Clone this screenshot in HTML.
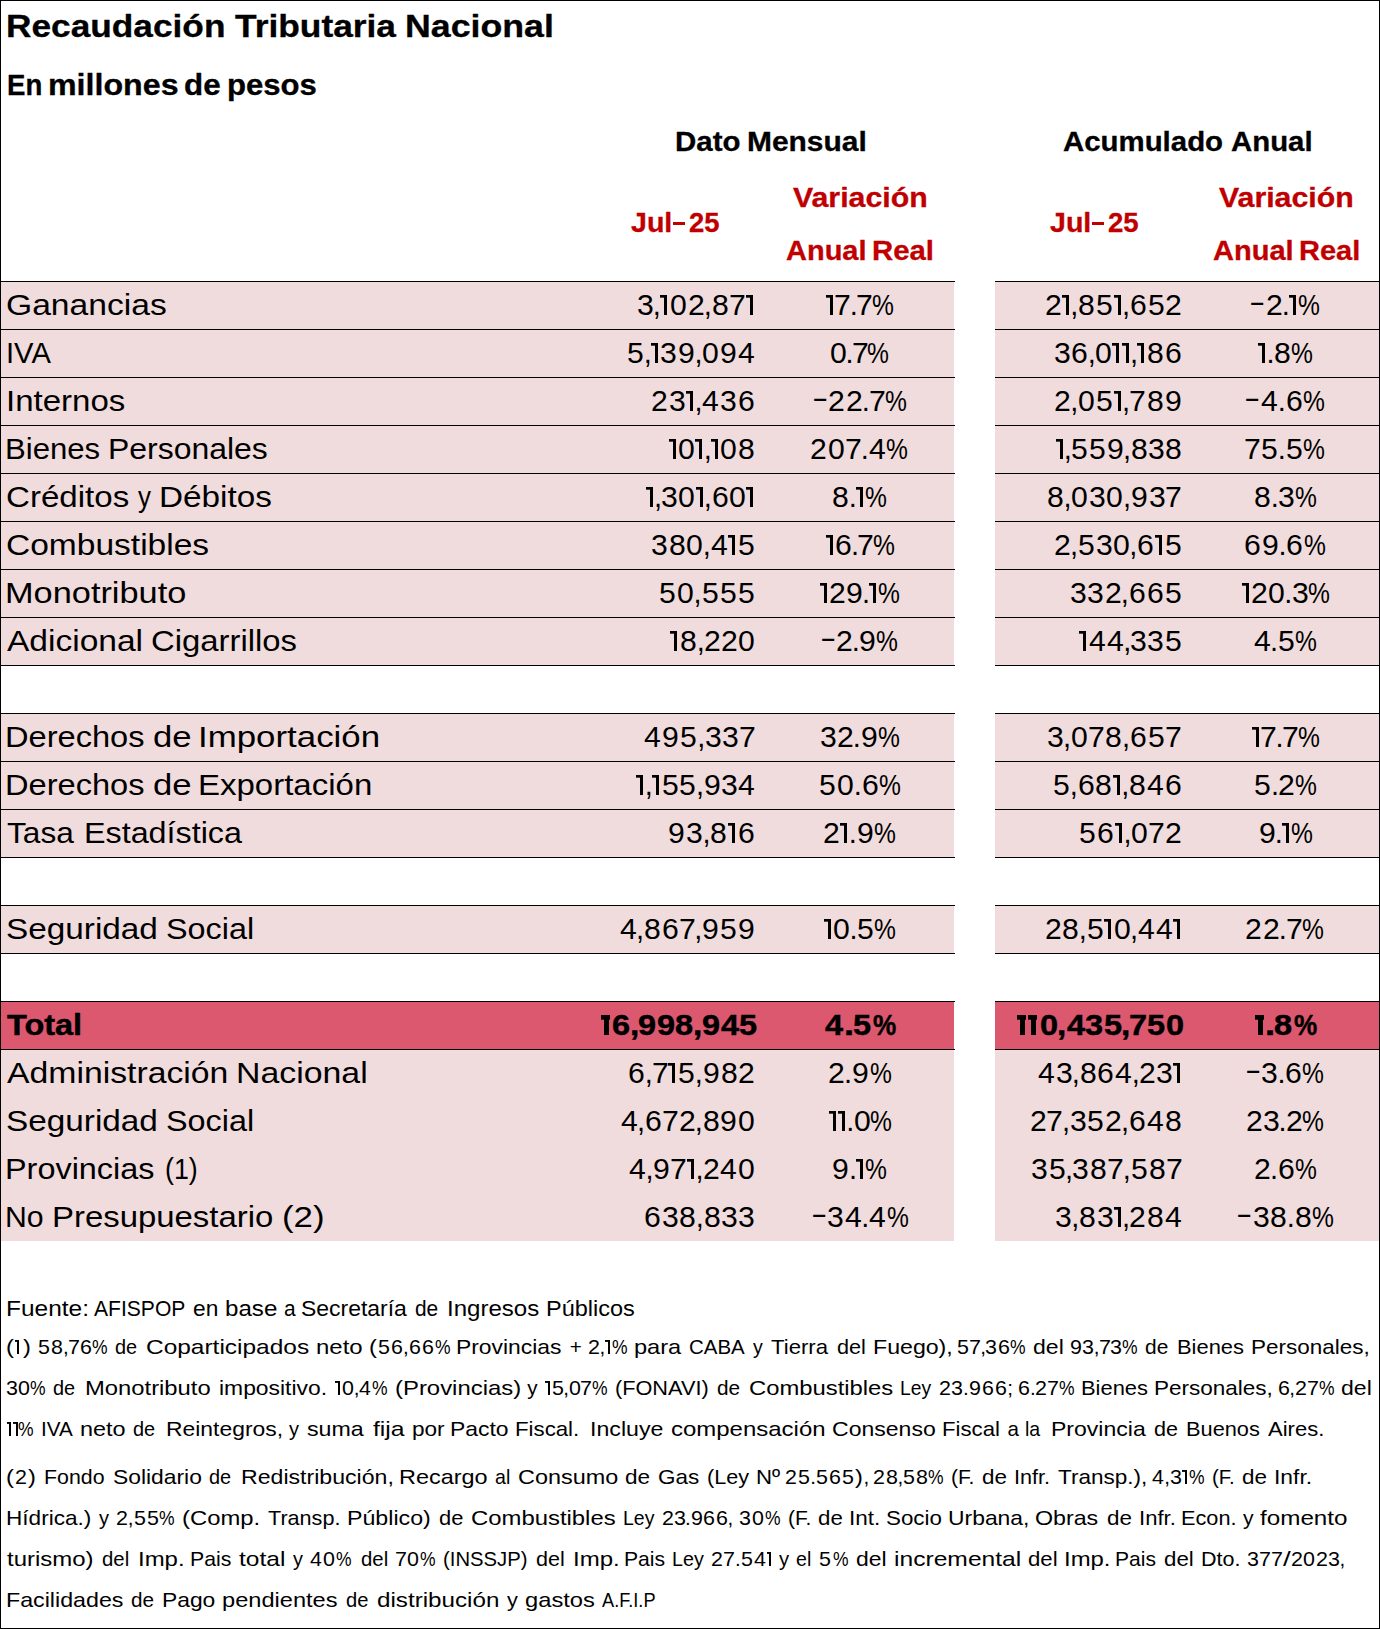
<!DOCTYPE html>
<html lang="es"><head><meta charset="utf-8"><title>Recaudación Tributaria Nacional</title>
<style>
html,body{margin:0;padding:0;background:#fff;}
body{width:1380px;height:1629px;position:relative;overflow:hidden;font-family:"Liberation Sans",sans-serif;color:#000;}
.f{position:absolute;}
.t{position:absolute;white-space:pre;line-height:1;transform-origin:0 0;margin:0;padding:0;}
.b{font-weight:bold;-webkit-text-stroke:0.3px;}
.n i{position:absolute;top:0;font-style:normal;transform-origin:0 0;}
.n i.o{top:4px;width:6.5px;height:20px;overflow:hidden;color:transparent;background:linear-gradient(#000,#000) right top/3px 100% no-repeat,linear-gradient(#000,#000) left top/100% 2.7px no-repeat;}
.r{color:#C00000;}
.k{-webkit-text-stroke:0.45px #000;}
.n i.on{top:3px;width:4.6px;height:14px;background:linear-gradient(#000,#000) right top/2px 100% no-repeat,linear-gradient(#000,#000) left top/100% 1.9px no-repeat;}
.n i.ob{width:8.7px;-webkit-text-stroke:0;background:linear-gradient(#000,#000) right top/5.4px 100% no-repeat,linear-gradient(#000,#000) left top/100% 4.7px no-repeat;}
</style></head><body>

<div class="f" style="left:0px;top:281px;width:954px;height:384px;background:#F0DCDC"></div>
<div class="f" style="left:995px;top:281px;width:385px;height:384px;background:#F0DCDC"></div>
<div class="f" style="left:0px;top:713px;width:954px;height:144px;background:#F0DCDC"></div>
<div class="f" style="left:995px;top:713px;width:385px;height:144px;background:#F0DCDC"></div>
<div class="f" style="left:0px;top:905px;width:954px;height:48px;background:#F0DCDC"></div>
<div class="f" style="left:995px;top:905px;width:385px;height:48px;background:#F0DCDC"></div>
<div class="f" style="left:0px;top:1001px;width:954px;height:48px;background:#DC586E"></div>
<div class="f" style="left:995px;top:1001px;width:385px;height:48px;background:#DC586E"></div>
<div class="f" style="left:0px;top:1049px;width:954px;height:192px;background:#F0DCDC"></div>
<div class="f" style="left:995px;top:1049px;width:385px;height:192px;background:#F0DCDC"></div>
<div class="f" style="left:0px;top:281px;width:955px;height:1px;background:#000"></div>
<div class="f" style="left:995px;top:281px;width:385px;height:1px;background:#000"></div>
<div class="f" style="left:0px;top:329px;width:955px;height:1px;background:#000"></div>
<div class="f" style="left:995px;top:329px;width:385px;height:1px;background:#000"></div>
<div class="f" style="left:0px;top:377px;width:955px;height:1px;background:#000"></div>
<div class="f" style="left:995px;top:377px;width:385px;height:1px;background:#000"></div>
<div class="f" style="left:0px;top:425px;width:955px;height:1px;background:#000"></div>
<div class="f" style="left:995px;top:425px;width:385px;height:1px;background:#000"></div>
<div class="f" style="left:0px;top:473px;width:955px;height:1px;background:#000"></div>
<div class="f" style="left:995px;top:473px;width:385px;height:1px;background:#000"></div>
<div class="f" style="left:0px;top:521px;width:955px;height:1px;background:#000"></div>
<div class="f" style="left:995px;top:521px;width:385px;height:1px;background:#000"></div>
<div class="f" style="left:0px;top:569px;width:955px;height:1px;background:#000"></div>
<div class="f" style="left:995px;top:569px;width:385px;height:1px;background:#000"></div>
<div class="f" style="left:0px;top:617px;width:955px;height:1px;background:#000"></div>
<div class="f" style="left:995px;top:617px;width:385px;height:1px;background:#000"></div>
<div class="f" style="left:0px;top:665px;width:955px;height:1px;background:#000"></div>
<div class="f" style="left:995px;top:665px;width:385px;height:1px;background:#000"></div>
<div class="f" style="left:0px;top:713px;width:955px;height:1px;background:#000"></div>
<div class="f" style="left:995px;top:713px;width:385px;height:1px;background:#000"></div>
<div class="f" style="left:0px;top:761px;width:955px;height:1px;background:#000"></div>
<div class="f" style="left:995px;top:761px;width:385px;height:1px;background:#000"></div>
<div class="f" style="left:0px;top:809px;width:955px;height:1px;background:#000"></div>
<div class="f" style="left:995px;top:809px;width:385px;height:1px;background:#000"></div>
<div class="f" style="left:0px;top:857px;width:955px;height:1px;background:#000"></div>
<div class="f" style="left:995px;top:857px;width:385px;height:1px;background:#000"></div>
<div class="f" style="left:0px;top:905px;width:955px;height:1px;background:#000"></div>
<div class="f" style="left:995px;top:905px;width:385px;height:1px;background:#000"></div>
<div class="f" style="left:0px;top:953px;width:955px;height:1px;background:#000"></div>
<div class="f" style="left:995px;top:953px;width:385px;height:1px;background:#000"></div>
<div class="f" style="left:0px;top:1001px;width:955px;height:1px;background:#000"></div>
<div class="f" style="left:995px;top:1001px;width:385px;height:1px;background:#000"></div>
<div class="f" style="left:0px;top:1049px;width:955px;height:1px;background:#000"></div>
<div class="f" style="left:995px;top:1049px;width:385px;height:1px;background:#000"></div>
<div class="f" style="left:0px;top:0px;width:1380px;height:1px;background:#000"></div>
<div class="f" style="left:0px;top:1628px;width:1380px;height:1px;background:#000"></div>
<div class="f" style="left:0px;top:0px;width:1px;height:1629px;background:#000"></div>
<div class="f" style="left:1379px;top:0px;width:1px;height:1629px;background:#000"></div>
<div class="f" style="left:673.2px;top:221.7px;width:11.9px;height:3.3px;background:#C00000"></div>
<div class="f" style="left:1092px;top:221.7px;width:11.9px;height:3.3px;background:#C00000"></div>
<div class="t b" style="left:6.30px;top:10.00px;font-size:32.1px;transform:scaleX(1.0991)">Recaudación</div>
<div class="t b" style="left:234.60px;top:10.00px;font-size:32.1px;transform:scaleX(1.1016)">Tributaria</div>
<div class="t b" style="left:404.77px;top:10.00px;font-size:32.1px;transform:scaleX(1.1134)">Nacional</div>
<div class="t b" style="left:6.85px;top:71.00px;font-size:29px;transform:scaleX(0.9522)">En</div>
<div class="t b" style="left:47.89px;top:71.00px;font-size:29px;transform:scaleX(1.1098)">millones</div>
<div class="t b" style="left:183.62px;top:71.00px;font-size:29px;transform:scaleX(1.0821)">de</div>
<div class="t b" style="left:226.73px;top:71.00px;font-size:29px;transform:scaleX(1.0724)">pesos</div>
<div class="t b" style="left:675.41px;top:129.00px;font-size:27px;transform:scaleX(1.0905)">Dato</div>
<div class="t b" style="left:747.19px;top:129.00px;font-size:27px;transform:scaleX(1.1087)">Mensual</div>
<div class="t b" style="left:1063.20px;top:129.00px;font-size:27px;transform:scaleX(1.0886)">Acumulado</div>
<div class="t b" style="left:1231.30px;top:129.00px;font-size:27px;transform:scaleX(1.0871)">Anual</div>
<div class="t b r" style="left:630.80px;top:210.00px;font-size:27px;transform:scaleX(1.0584)">Jul</div>
<div class="t b r" style="left:688.80px;top:210.00px;font-size:27px;transform:scaleX(1.0161)">25</div>
<div class="t b r" style="left:793.00px;top:185.00px;font-size:27px;transform:scaleX(1.1217)">Variación</div>
<div class="t b r" style="left:785.80px;top:238.00px;font-size:27px;transform:scaleX(1.0735)">Anual</div>
<div class="t b r" style="left:872.11px;top:238.00px;font-size:27px;transform:scaleX(1.0875)">Real</div>
<div class="t b r" style="left:1049.60px;top:210.00px;font-size:27px;transform:scaleX(1.0584)">Jul</div>
<div class="t b r" style="left:1107.60px;top:210.00px;font-size:27px;transform:scaleX(1.0228)">25</div>
<div class="t b r" style="left:1218.80px;top:185.00px;font-size:27px;transform:scaleX(1.1225)">Variación</div>
<div class="t b r" style="left:1212.60px;top:238.00px;font-size:27px;transform:scaleX(1.0748)">Anual</div>
<div class="t b r" style="left:1298.93px;top:238.00px;font-size:27px;transform:scaleX(1.0746)">Real</div>
<div class="t" style="left:6.09px;top:291.00px;font-size:29px;transform:scaleX(1.1590)">Ganancias</div>
<div class="t n" style="left:0;top:291.00px;font-size:29px"><i style="left:636.55px;transform:scaleX(1.040)">3</i><i style="left:652.84px;transform:scaleX(1.000)">,</i><i class="o" style="left:660px">1</i><i style="left:670.04px;transform:scaleX(1.040)">0</i><i style="left:687.58px;transform:scaleX(1.040)">2</i><i style="left:703.87px;transform:scaleX(1.000)">,</i><i style="left:711.91px;transform:scaleX(1.040)">8</i><i style="left:729.27px;transform:scaleX(1.040)">7</i><i class="o" style="left:746px">1</i></div>
<div class="t n" style="left:0;top:291.00px;font-size:29px"><i class="o" style="left:826px">1</i><i style="left:834.35px;transform:scaleX(1.040)">7</i><i style="left:849.63px;transform:scaleX(1.000)">.</i><i style="left:856.18px;transform:scaleX(1.040)">7</i><i style="left:871.96px;transform:scaleX(0.850)">%</i></div>
<div class="t n" style="left:0;top:291.00px;font-size:29px"><i style="left:1044.98px;transform:scaleX(1.040)">2</i><i class="o" style="left:1062px">1</i><i style="left:1070.34px;transform:scaleX(1.000)">,</i><i style="left:1078.18px;transform:scaleX(1.040)">8</i><i style="left:1096.15px;transform:scaleX(1.040)">5</i><i class="o" style="left:1114px">1</i><i style="left:1121.99px;transform:scaleX(1.000)">,</i><i style="left:1129.77px;transform:scaleX(1.040)">6</i><i style="left:1147.68px;transform:scaleX(1.040)">5</i><i style="left:1165.20px;transform:scaleX(1.040)">2</i></div>
<div class="t n" style="left:0;top:291.00px;font-size:29px"><i style="left:1249.22px;transform:scaleX(1.690) translateY(-2.9px)">-</i><i style="left:1265.66px;transform:scaleX(1.040)">2</i><i style="left:1281.77px;transform:scaleX(1.000)">.</i><i class="o" style="left:1289px">1</i><i style="left:1298.26px;transform:scaleX(0.850)">%</i></div>
<div class="t" style="left:6.09px;top:339.00px;font-size:29px;transform:scaleX(1.0058)">IVA</div>
<div class="t n" style="left:0;top:339.00px;font-size:29px"><i style="left:627.09px;transform:scaleX(1.040)">5</i><i style="left:643.73px;transform:scaleX(1.000)">,</i><i class="o" style="left:651px">1</i><i style="left:660.44px;transform:scaleX(1.040)">3</i><i style="left:677.99px;transform:scaleX(1.040)">9</i><i style="left:694.59px;transform:scaleX(1.000)">,</i><i style="left:702.26px;transform:scaleX(1.040)">0</i><i style="left:720.05px;transform:scaleX(1.040)">9</i><i style="left:737.98px;transform:scaleX(1.040)">4</i></div>
<div class="t n" style="left:0;top:339.00px;font-size:29px"><i style="left:829.82px;transform:scaleX(1.040)">0</i><i style="left:845.54px;transform:scaleX(1.000)">.</i><i style="left:851.94px;transform:scaleX(1.040)">7</i><i style="left:867.46px;transform:scaleX(0.850)">%</i></div>
<div class="t n" style="left:0;top:339.00px;font-size:29px"><i style="left:1053.85px;transform:scaleX(1.040)">3</i><i style="left:1071.21px;transform:scaleX(1.040)">6</i><i style="left:1087.67px;transform:scaleX(1.000)">,</i><i style="left:1095.26px;transform:scaleX(1.040)">0</i><i class="o" style="left:1112px">1</i><i class="o" style="left:1122px">1</i><i style="left:1130.00px;transform:scaleX(1.000)">,</i><i class="o" style="left:1137px">1</i><i style="left:1147.02px;transform:scaleX(1.040)">8</i><i style="left:1164.83px;transform:scaleX(1.040)">6</i></div>
<div class="t n" style="left:0;top:339.00px;font-size:29px"><i class="o" style="left:1258px">1</i><i style="left:1266.62px;transform:scaleX(1.000)">.</i><i style="left:1274.13px;transform:scaleX(1.040)">8</i><i style="left:1290.96px;transform:scaleX(0.850)">%</i></div>
<div class="t" style="left:5.82px;top:387.00px;font-size:29px;transform:scaleX(1.1380)">Internos</div>
<div class="t n" style="left:0;top:387.00px;font-size:29px"><i style="left:651.48px;transform:scaleX(1.040)">2</i><i style="left:668.79px;transform:scaleX(1.040)">3</i><i class="o" style="left:686px">1</i><i style="left:694.49px;transform:scaleX(1.000)">,</i><i style="left:702.46px;transform:scaleX(1.040)">4</i><i style="left:720.15px;transform:scaleX(1.040)">3</i><i style="left:737.86px;transform:scaleX(1.040)">6</i></div>
<div class="t n" style="left:0;top:387.00px;font-size:29px"><i style="left:811.82px;transform:scaleX(1.690) translateY(-2.9px)">-</i><i style="left:828.38px;transform:scaleX(1.040)">2</i><i style="left:845.56px;transform:scaleX(1.040)">2</i><i style="left:861.74px;transform:scaleX(1.000)">.</i><i style="left:868.82px;transform:scaleX(1.040)">7</i><i style="left:885.46px;transform:scaleX(0.850)">%</i></div>
<div class="t n" style="left:0;top:387.00px;font-size:29px"><i style="left:1054.08px;transform:scaleX(1.040)">2</i><i style="left:1070.32px;transform:scaleX(1.000)">,</i><i style="left:1078.08px;transform:scaleX(1.040)">0</i><i style="left:1096.02px;transform:scaleX(1.040)">5</i><i class="o" style="left:1114px">1</i><i style="left:1122.10px;transform:scaleX(1.000)">,</i><i style="left:1129.22px;transform:scaleX(1.040)">7</i><i style="left:1146.51px;transform:scaleX(1.040)">8</i><i style="left:1164.64px;transform:scaleX(1.040)">9</i></div>
<div class="t n" style="left:0;top:387.00px;font-size:29px"><i style="left:1243.82px;transform:scaleX(1.690) translateY(-2.9px)">-</i><i style="left:1260.99px;transform:scaleX(1.040)">4</i><i style="left:1277.73px;transform:scaleX(1.000)">.</i><i style="left:1285.76px;transform:scaleX(1.040)">6</i><i style="left:1303.46px;transform:scaleX(0.850)">%</i></div>
<div class="t" style="left:5.35px;top:435.00px;font-size:29px;transform:scaleX(1.0734)">Bienes</div>
<div class="t" style="left:107.80px;top:435.00px;font-size:29px;transform:scaleX(1.1011)">Personales</div>
<div class="t n" style="left:0;top:435.00px;font-size:29px"><i class="o" style="left:669px">1</i><i style="left:678.44px;transform:scaleX(1.040)">0</i><i class="o" style="left:695px">1</i><i style="left:703.82px;transform:scaleX(1.000)">,</i><i class="o" style="left:711px">1</i><i style="left:720.49px;transform:scaleX(1.040)">0</i><i style="left:738.03px;transform:scaleX(1.040)">8</i></div>
<div class="t n" style="left:0;top:435.00px;font-size:29px"><i style="left:810.48px;transform:scaleX(1.040)">2</i><i style="left:827.90px;transform:scaleX(1.040)">0</i><i style="left:844.92px;transform:scaleX(1.040)">7</i><i style="left:860.70px;transform:scaleX(1.000)">.</i><i style="left:868.55px;transform:scaleX(1.040)">4</i><i style="left:885.96px;transform:scaleX(0.850)">%</i></div>
<div class="t n" style="left:0;top:435.00px;font-size:29px"><i class="o" style="left:1056px">1</i><i style="left:1063.81px;transform:scaleX(1.000)">,</i><i style="left:1071.44px;transform:scaleX(1.040)">5</i><i style="left:1089.10px;transform:scaleX(1.040)">5</i><i style="left:1106.72px;transform:scaleX(1.040)">9</i><i style="left:1123.04px;transform:scaleX(1.000)">,</i><i style="left:1130.65px;transform:scaleX(1.040)">8</i><i style="left:1147.78px;transform:scaleX(1.040)">3</i><i style="left:1164.92px;transform:scaleX(1.040)">8</i></div>
<div class="t n" style="left:0;top:435.00px;font-size:29px"><i style="left:1244.25px;transform:scaleX(1.040)">7</i><i style="left:1261.33px;transform:scaleX(1.040)">5</i><i style="left:1277.86px;transform:scaleX(1.000)">.</i><i style="left:1285.67px;transform:scaleX(1.040)">5</i><i style="left:1302.96px;transform:scaleX(0.850)">%</i></div>
<div class="t" style="left:5.66px;top:483.00px;font-size:29px;transform:scaleX(1.1410)">Créditos</div>
<div class="t" style="left:138.30px;top:483.00px;font-size:29px;transform:scaleX(0.8933)">y</div>
<div class="t" style="left:159.40px;top:483.00px;font-size:29px;transform:scaleX(1.1479)">Débitos</div>
<div class="t n" style="left:0;top:483.00px;font-size:29px"><i class="o" style="left:646px">1</i><i style="left:654.05px;transform:scaleX(1.000)">,</i><i style="left:661.33px;transform:scaleX(1.040)">3</i><i style="left:678.46px;transform:scaleX(1.040)">0</i><i class="o" style="left:696px">1</i><i style="left:703.87px;transform:scaleX(1.000)">,</i><i style="left:711.55px;transform:scaleX(1.040)">6</i><i style="left:729.06px;transform:scaleX(1.040)">0</i><i class="o" style="left:746px">1</i></div>
<div class="t n" style="left:0;top:483.00px;font-size:29px"><i style="left:832.19px;transform:scaleX(1.040)">8</i><i style="left:848.72px;transform:scaleX(1.000)">.</i><i class="o" style="left:856px">1</i><i style="left:865.16px;transform:scaleX(0.850)">%</i></div>
<div class="t n" style="left:0;top:483.00px;font-size:29px"><i style="left:1046.89px;transform:scaleX(1.040)">8</i><i style="left:1063.61px;transform:scaleX(1.000)">,</i><i style="left:1071.40px;transform:scaleX(1.040)">0</i><i style="left:1088.89px;transform:scaleX(1.040)">3</i><i style="left:1106.39px;transform:scaleX(1.040)">0</i><i style="left:1122.89px;transform:scaleX(1.000)">,</i><i style="left:1130.90px;transform:scaleX(1.040)">9</i><i style="left:1148.62px;transform:scaleX(1.040)">3</i><i style="left:1165.48px;transform:scaleX(1.040)">7</i></div>
<div class="t n" style="left:0;top:483.00px;font-size:29px"><i style="left:1254.29px;transform:scaleX(1.040)">8</i><i style="left:1270.83px;transform:scaleX(1.000)">.</i><i style="left:1278.19px;transform:scaleX(1.040)">3</i><i style="left:1295.06px;transform:scaleX(0.850)">%</i></div>
<div class="t" style="left:5.74px;top:531.00px;font-size:29px;transform:scaleX(1.1562)">Combustibles</div>
<div class="t n" style="left:0;top:531.00px;font-size:29px"><i style="left:651.05px;transform:scaleX(1.040)">3</i><i style="left:668.60px;transform:scaleX(1.040)">8</i><i style="left:686.40px;transform:scaleX(1.040)">0</i><i style="left:702.79px;transform:scaleX(1.000)">,</i><i style="left:710.61px;transform:scaleX(1.040)">4</i><i class="o" style="left:728px">1</i><i style="left:737.87px;transform:scaleX(1.040)">5</i></div>
<div class="t n" style="left:0;top:531.00px;font-size:29px"><i class="o" style="left:826px">1</i><i style="left:834.83px;transform:scaleX(1.040)">6</i><i style="left:850.88px;transform:scaleX(1.000)">.</i><i style="left:857.45px;transform:scaleX(1.040)">7</i><i style="left:873.26px;transform:scaleX(0.850)">%</i></div>
<div class="t n" style="left:0;top:531.00px;font-size:29px"><i style="left:1053.68px;transform:scaleX(1.040)">2</i><i style="left:1069.89px;transform:scaleX(1.000)">,</i><i style="left:1077.86px;transform:scaleX(1.040)">5</i><i style="left:1095.52px;transform:scaleX(1.040)">3</i><i style="left:1112.93px;transform:scaleX(1.040)">0</i><i style="left:1129.37px;transform:scaleX(1.000)">,</i><i style="left:1137.25px;transform:scaleX(1.040)">6</i><i class="o" style="left:1155px">1</i><i style="left:1164.64px;transform:scaleX(1.040)">5</i></div>
<div class="t n" style="left:0;top:531.00px;font-size:29px"><i style="left:1244.17px;transform:scaleX(1.040)">6</i><i style="left:1262.07px;transform:scaleX(1.040)">9</i><i style="left:1278.62px;transform:scaleX(1.000)">.</i><i style="left:1286.38px;transform:scaleX(1.040)">6</i><i style="left:1303.66px;transform:scaleX(0.850)">%</i></div>
<div class="t" style="left:5.03px;top:579.00px;font-size:29px;transform:scaleX(1.1839)">Monotributo</div>
<div class="t n" style="left:0;top:579.00px;font-size:29px"><i style="left:659.29px;transform:scaleX(1.040)">5</i><i style="left:677.18px;transform:scaleX(1.040)">0</i><i style="left:693.61px;transform:scaleX(1.000)">,</i><i style="left:701.57px;transform:scaleX(1.040)">5</i><i style="left:719.71px;transform:scaleX(1.040)">5</i><i style="left:737.84px;transform:scaleX(1.040)">5</i></div>
<div class="t n" style="left:0;top:579.00px;font-size:29px"><i class="o" style="left:820px">1</i><i style="left:829.20px;transform:scaleX(1.040)">2</i><i style="left:846.03px;transform:scaleX(1.040)">9</i><i style="left:862.10px;transform:scaleX(1.000)">.</i><i class="o" style="left:869px">1</i><i style="left:877.66px;transform:scaleX(0.850)">%</i></div>
<div class="t n" style="left:0;top:579.00px;font-size:29px"><i style="left:1070.25px;transform:scaleX(1.040)">3</i><i style="left:1087.41px;transform:scaleX(1.040)">3</i><i style="left:1104.57px;transform:scaleX(1.040)">2</i><i style="left:1120.76px;transform:scaleX(1.000)">,</i><i style="left:1128.64px;transform:scaleX(1.040)">6</i><i style="left:1146.59px;transform:scaleX(1.040)">6</i><i style="left:1164.64px;transform:scaleX(1.040)">5</i></div>
<div class="t n" style="left:0;top:579.00px;font-size:29px"><i class="o" style="left:1242px">1</i><i style="left:1250.99px;transform:scaleX(1.040)">2</i><i style="left:1268.08px;transform:scaleX(1.040)">0</i><i style="left:1284.27px;transform:scaleX(1.000)">.</i><i style="left:1291.50px;transform:scaleX(1.040)">3</i><i style="left:1308.16px;transform:scaleX(0.850)">%</i></div>
<div class="t" style="left:7.30px;top:627.00px;font-size:29px;transform:scaleX(1.1562)">Adicional</div>
<div class="t" style="left:150.57px;top:627.00px;font-size:29px;transform:scaleX(1.1325)">Cigarrillos</div>
<div class="t n" style="left:0;top:627.00px;font-size:29px"><i class="o" style="left:670px">1</i><i style="left:680.16px;transform:scaleX(1.040)">8</i><i style="left:696.67px;transform:scaleX(1.000)">,</i><i style="left:704.02px;transform:scaleX(1.040)">2</i><i style="left:720.99px;transform:scaleX(1.040)">2</i><i style="left:738.19px;transform:scaleX(1.040)">0</i></div>
<div class="t n" style="left:0;top:627.00px;font-size:29px"><i style="left:819.62px;transform:scaleX(1.690) translateY(-2.9px)">-</i><i style="left:835.78px;transform:scaleX(1.040)">2</i><i style="left:851.69px;transform:scaleX(1.000)">.</i><i style="left:859.33px;transform:scaleX(1.040)">9</i><i style="left:876.36px;transform:scaleX(0.850)">%</i></div>
<div class="t n" style="left:0;top:627.00px;font-size:29px"><i class="o" style="left:1079px">1</i><i style="left:1089.13px;transform:scaleX(1.040)">4</i><i style="left:1106.79px;transform:scaleX(1.040)">4</i><i style="left:1123.19px;transform:scaleX(1.000)">,</i><i style="left:1130.49px;transform:scaleX(1.040)">3</i><i style="left:1147.39px;transform:scaleX(1.040)">3</i><i style="left:1164.78px;transform:scaleX(1.040)">5</i></div>
<div class="t n" style="left:0;top:627.00px;font-size:29px"><i style="left:1253.61px;transform:scaleX(1.040)">4</i><i style="left:1270.01px;transform:scaleX(1.000)">.</i><i style="left:1277.80px;transform:scaleX(1.040)">5</i><i style="left:1295.06px;transform:scaleX(0.850)">%</i></div>
<div class="t" style="left:5.05px;top:723.00px;font-size:29px;transform:scaleX(1.1241)">Derechos</div>
<div class="t" style="left:152.81px;top:723.00px;font-size:29px;transform:scaleX(1.1949)">de</div>
<div class="t" style="left:197.60px;top:723.00px;font-size:29px;transform:scaleX(1.2016)">Importación</div>
<div class="t n" style="left:0;top:723.00px;font-size:29px"><i style="left:644.21px;transform:scaleX(1.040)">4</i><i style="left:662.27px;transform:scaleX(1.040)">9</i><i style="left:680.44px;transform:scaleX(1.040)">5</i><i style="left:697.16px;transform:scaleX(1.000)">,</i><i style="left:704.68px;transform:scaleX(1.040)">3</i><i style="left:721.88px;transform:scaleX(1.040)">3</i><i style="left:738.70px;transform:scaleX(1.040)">7</i></div>
<div class="t n" style="left:0;top:723.00px;font-size:29px"><i style="left:820.05px;transform:scaleX(1.040)">3</i><i style="left:836.90px;transform:scaleX(1.040)">2</i><i style="left:852.86px;transform:scaleX(1.000)">.</i><i style="left:860.55px;transform:scaleX(1.040)">9</i><i style="left:877.66px;transform:scaleX(0.850)">%</i></div>
<div class="t n" style="left:0;top:723.00px;font-size:29px"><i style="left:1046.75px;transform:scaleX(1.040)">3</i><i style="left:1063.02px;transform:scaleX(1.000)">,</i><i style="left:1070.81px;transform:scaleX(1.040)">0</i><i style="left:1087.93px;transform:scaleX(1.040)">7</i><i style="left:1105.26px;transform:scaleX(1.040)">8</i><i style="left:1121.99px;transform:scaleX(1.000)">,</i><i style="left:1129.94px;transform:scaleX(1.040)">6</i><i style="left:1148.10px;transform:scaleX(1.040)">5</i><i style="left:1165.47px;transform:scaleX(1.040)">7</i></div>
<div class="t n" style="left:0;top:723.00px;font-size:29px"><i class="o" style="left:1252px">1</i><i style="left:1260.40px;transform:scaleX(1.040)">7</i><i style="left:1275.58px;transform:scaleX(1.000)">.</i><i style="left:1282.05px;transform:scaleX(1.040)">7</i><i style="left:1297.66px;transform:scaleX(0.850)">%</i></div>
<div class="t" style="left:5.05px;top:771.00px;font-size:29px;transform:scaleX(1.1241)">Derechos</div>
<div class="t" style="left:152.81px;top:771.00px;font-size:29px;transform:scaleX(1.1949)">de</div>
<div class="t" style="left:197.72px;top:771.00px;font-size:29px;transform:scaleX(1.1379)">Exportación</div>
<div class="t n" style="left:0;top:771.00px;font-size:29px"><i class="o" style="left:636px">1</i><i style="left:644.81px;transform:scaleX(1.000)">,</i><i class="o" style="left:652px">1</i><i style="left:661.68px;transform:scaleX(1.040)">5</i><i style="left:679.48px;transform:scaleX(1.040)">5</i><i style="left:695.93px;transform:scaleX(1.000)">,</i><i style="left:703.63px;transform:scaleX(1.040)">9</i><i style="left:720.91px;transform:scaleX(1.040)">3</i><i style="left:738.12px;transform:scaleX(1.040)">4</i></div>
<div class="t n" style="left:0;top:771.00px;font-size:29px"><i style="left:819.29px;transform:scaleX(1.040)">5</i><i style="left:837.22px;transform:scaleX(1.040)">0</i><i style="left:853.65px;transform:scaleX(1.000)">.</i><i style="left:861.52px;transform:scaleX(1.040)">6</i><i style="left:878.96px;transform:scaleX(0.850)">%</i></div>
<div class="t n" style="left:0;top:771.00px;font-size:29px"><i style="left:1053.19px;transform:scaleX(1.040)">5</i><i style="left:1069.79px;transform:scaleX(1.000)">,</i><i style="left:1077.58px;transform:scaleX(1.040)">6</i><i style="left:1095.46px;transform:scaleX(1.040)">8</i><i class="o" style="left:1113px">1</i><i style="left:1121.27px;transform:scaleX(1.000)">,</i><i style="left:1129.12px;transform:scaleX(1.040)">8</i><i style="left:1146.99px;transform:scaleX(1.040)">4</i><i style="left:1164.80px;transform:scaleX(1.040)">6</i></div>
<div class="t n" style="left:0;top:771.00px;font-size:29px"><i style="left:1254.39px;transform:scaleX(1.040)">5</i><i style="left:1270.92px;transform:scaleX(1.000)">.</i><i style="left:1278.25px;transform:scaleX(1.040)">2</i><i style="left:1295.06px;transform:scaleX(0.850)">%</i></div>
<div class="t" style="left:7.30px;top:819.00px;font-size:29px;transform:scaleX(1.0897)">Tasa</div>
<div class="t" style="left:83.77px;top:819.00px;font-size:29px;transform:scaleX(1.1136)">Estadística</div>
<div class="t n" style="left:0;top:819.00px;font-size:29px"><i style="left:668.49px;transform:scaleX(1.040)">9</i><i style="left:686.19px;transform:scaleX(1.040)">3</i><i style="left:702.44px;transform:scaleX(1.000)">,</i><i style="left:710.43px;transform:scaleX(1.040)">8</i><i class="o" style="left:728px">1</i><i style="left:737.89px;transform:scaleX(1.040)">6</i></div>
<div class="t n" style="left:0;top:819.00px;font-size:29px"><i style="left:823.38px;transform:scaleX(1.040)">2</i><i class="o" style="left:840px">1</i><i style="left:848.87px;transform:scaleX(1.000)">.</i><i style="left:856.79px;transform:scaleX(1.040)">9</i><i style="left:874.26px;transform:scaleX(0.850)">%</i></div>
<div class="t n" style="left:0;top:819.00px;font-size:29px"><i style="left:1079.29px;transform:scaleX(1.040)">5</i><i style="left:1097.41px;transform:scaleX(1.040)">6</i><i class="o" style="left:1115px">1</i><i style="left:1123.41px;transform:scaleX(1.000)">,</i><i style="left:1131.18px;transform:scaleX(1.040)">0</i><i style="left:1148.26px;transform:scaleX(1.040)">7</i><i style="left:1165.10px;transform:scaleX(1.040)">2</i></div>
<div class="t n" style="left:0;top:819.00px;font-size:29px"><i style="left:1258.58px;transform:scaleX(1.040)">9</i><i style="left:1274.81px;transform:scaleX(1.000)">.</i><i class="o" style="left:1282px">1</i><i style="left:1290.66px;transform:scaleX(0.850)">%</i></div>
<div class="t" style="left:6.15px;top:915.00px;font-size:29px;transform:scaleX(1.1485)">Seguridad</div>
<div class="t" style="left:166.18px;top:915.00px;font-size:29px;transform:scaleX(1.1157)">Social</div>
<div class="t n" style="left:0;top:915.00px;font-size:29px"><i style="left:619.61px;transform:scaleX(1.040)">4</i><i style="left:636.06px;transform:scaleX(1.000)">,</i><i style="left:643.86px;transform:scaleX(1.040)">8</i><i style="left:661.67px;transform:scaleX(1.040)">6</i><i style="left:678.65px;transform:scaleX(1.040)">7</i><i style="left:694.33px;transform:scaleX(1.000)">,</i><i style="left:702.14px;transform:scaleX(1.040)">9</i><i style="left:720.05px;transform:scaleX(1.040)">5</i><i style="left:737.97px;transform:scaleX(1.040)">9</i></div>
<div class="t n" style="left:0;top:915.00px;font-size:29px"><i class="o" style="left:824px">1</i><i style="left:833.22px;transform:scaleX(1.040)">0</i><i style="left:849.41px;transform:scaleX(1.000)">.</i><i style="left:857.12px;transform:scaleX(1.040)">5</i><i style="left:874.26px;transform:scaleX(0.850)">%</i></div>
<div class="t n" style="left:0;top:915.00px;font-size:29px"><i style="left:1044.58px;transform:scaleX(1.040)">2</i><i style="left:1062.09px;transform:scaleX(1.040)">8</i><i style="left:1078.66px;transform:scaleX(1.000)">,</i><i style="left:1086.55px;transform:scaleX(1.040)">5</i><i class="o" style="left:1104px">1</i><i style="left:1113.59px;transform:scaleX(1.040)">0</i><i style="left:1129.94px;transform:scaleX(1.000)">,</i><i style="left:1137.73px;transform:scaleX(1.040)">4</i><i style="left:1155.55px;transform:scaleX(1.040)">4</i><i class="o" style="left:1173px">1</i></div>
<div class="t n" style="left:0;top:915.00px;font-size:29px"><i style="left:1245.48px;transform:scaleX(1.040)">2</i><i style="left:1262.55px;transform:scaleX(1.040)">2</i><i style="left:1278.65px;transform:scaleX(1.000)">.</i><i style="left:1285.65px;transform:scaleX(1.040)">7</i><i style="left:1302.16px;transform:scaleX(0.850)">%</i></div>
<div class="t b k" style="left:7.40px;top:1011.00px;font-size:29px;transform:scaleX(1.1189)">Total</div>
<div class="t n b k" style="left:0;top:1011.00px;font-size:29px"><i class="o ob" style="left:601px">1</i><i style="left:612.07px;transform:scaleX(1.120)">6</i><i style="left:629.67px;transform:scaleX(1.150)">,</i><i style="left:638.43px;transform:scaleX(1.120)">9</i><i style="left:656.86px;transform:scaleX(1.120)">9</i><i style="left:675.33px;transform:scaleX(1.120)">8</i><i style="left:692.94px;transform:scaleX(1.150)">,</i><i style="left:701.70px;transform:scaleX(1.120)">9</i><i style="left:720.53px;transform:scaleX(1.120)">4</i><i style="left:739.36px;transform:scaleX(1.120)">5</i></div>
<div class="t n b k" style="left:0;top:1011.00px;font-size:29px"><i style="left:825.41px;transform:scaleX(1.120)">4</i><i style="left:843.65px;transform:scaleX(1.250)">.</i><i style="left:853.49px;transform:scaleX(1.120)">5</i><i style="left:873.28px;transform:scaleX(0.900)">%</i></div>
<div class="t n b k" style="left:0;top:1011.00px;font-size:29px"><i class="o ob" style="left:1017px">1</i><i class="o ob" style="left:1028px">1</i><i style="left:1039.67px;transform:scaleX(1.120)">0</i><i style="left:1057.47px;transform:scaleX(1.150)">,</i><i style="left:1066.68px;transform:scaleX(1.120)">4</i><i style="left:1085.37px;transform:scaleX(1.120)">3</i><i style="left:1103.66px;transform:scaleX(1.120)">5</i><i style="left:1121.26px;transform:scaleX(1.150)">,</i><i style="left:1129.46px;transform:scaleX(1.120)">7</i><i style="left:1147.33px;transform:scaleX(1.120)">5</i><i style="left:1166.02px;transform:scaleX(1.120)">0</i></div>
<div class="t n b k" style="left:0;top:1011.00px;font-size:29px"><i class="o ob" style="left:1255px">1</i><i style="left:1264.99px;transform:scaleX(1.250)">.</i><i style="left:1274.44px;transform:scaleX(1.120)">8</i><i style="left:1293.58px;transform:scaleX(0.900)">%</i></div>
<div class="t" style="left:7.30px;top:1059.00px;font-size:29px;transform:scaleX(1.1637)">Administración</div>
<div class="t" style="left:235.97px;top:1059.00px;font-size:29px;transform:scaleX(1.1673)">Nacional</div>
<div class="t n" style="left:0;top:1059.00px;font-size:29px"><i style="left:628.07px;transform:scaleX(1.040)">6</i><i style="left:644.63px;transform:scaleX(1.000)">,</i><i style="left:651.68px;transform:scaleX(1.040)">7</i><i class="o" style="left:668px">1</i><i style="left:678.19px;transform:scaleX(1.040)">5</i><i style="left:694.84px;transform:scaleX(1.000)">,</i><i style="left:702.75px;transform:scaleX(1.040)">9</i><i style="left:720.78px;transform:scaleX(1.040)">8</i><i style="left:738.35px;transform:scaleX(1.040)">2</i></div>
<div class="t n" style="left:0;top:1059.00px;font-size:29px"><i style="left:827.68px;transform:scaleX(1.040)">2</i><i style="left:843.94px;transform:scaleX(1.000)">.</i><i style="left:851.94px;transform:scaleX(1.040)">9</i><i style="left:869.56px;transform:scaleX(0.850)">%</i></div>
<div class="t n" style="left:0;top:1059.00px;font-size:29px"><i style="left:1038.41px;transform:scaleX(1.040)">4</i><i style="left:1055.77px;transform:scaleX(1.040)">3</i><i style="left:1071.83px;transform:scaleX(1.000)">,</i><i style="left:1079.64px;transform:scaleX(1.040)">8</i><i style="left:1097.46px;transform:scaleX(1.040)">6</i><i style="left:1115.22px;transform:scaleX(1.040)">4</i><i style="left:1131.67px;transform:scaleX(1.000)">,</i><i style="left:1139.03px;transform:scaleX(1.040)">2</i><i style="left:1156.00px;transform:scaleX(1.040)">3</i><i class="o" style="left:1173px">1</i></div>
<div class="t n" style="left:0;top:1059.00px;font-size:29px"><i style="left:1245.12px;transform:scaleX(1.690) translateY(-2.9px)">-</i><i style="left:1261.48px;transform:scaleX(1.040)">3</i><i style="left:1277.53px;transform:scaleX(1.000)">.</i><i style="left:1285.25px;transform:scaleX(1.040)">6</i><i style="left:1302.46px;transform:scaleX(0.850)">%</i></div>
<div class="t" style="left:6.15px;top:1107.00px;font-size:29px;transform:scaleX(1.1485)">Seguridad</div>
<div class="t" style="left:166.18px;top:1107.00px;font-size:29px;transform:scaleX(1.1157)">Social</div>
<div class="t n" style="left:0;top:1107.00px;font-size:29px"><i style="left:620.61px;transform:scaleX(1.040)">4</i><i style="left:637.09px;transform:scaleX(1.000)">,</i><i style="left:644.87px;transform:scaleX(1.040)">6</i><i style="left:661.91px;transform:scaleX(1.040)">7</i><i style="left:678.55px;transform:scaleX(1.040)">2</i><i style="left:694.66px;transform:scaleX(1.000)">,</i><i style="left:702.50px;transform:scaleX(1.040)">8</i><i style="left:720.44px;transform:scaleX(1.040)">9</i><i style="left:738.16px;transform:scaleX(1.040)">0</i></div>
<div class="t n" style="left:0;top:1107.00px;font-size:29px"><i class="o" style="left:829px">1</i><i class="o" style="left:838px">1</i><i style="left:846.30px;transform:scaleX(1.000)">.</i><i style="left:853.58px;transform:scaleX(1.040)">0</i><i style="left:870.16px;transform:scaleX(0.850)">%</i></div>
<div class="t n" style="left:0;top:1107.00px;font-size:29px"><i style="left:1029.58px;transform:scaleX(1.040)">2</i><i style="left:1046.32px;transform:scaleX(1.040)">7</i><i style="left:1062.10px;transform:scaleX(1.000)">,</i><i style="left:1069.56px;transform:scaleX(1.040)">3</i><i style="left:1087.17px;transform:scaleX(1.040)">5</i><i style="left:1104.79px;transform:scaleX(1.040)">2</i><i style="left:1120.97px;transform:scaleX(1.000)">,</i><i style="left:1128.82px;transform:scaleX(1.040)">6</i><i style="left:1146.73px;transform:scaleX(1.040)">4</i><i style="left:1164.69px;transform:scaleX(1.040)">8</i></div>
<div class="t n" style="left:0;top:1107.00px;font-size:29px"><i style="left:1245.78px;transform:scaleX(1.040)">2</i><i style="left:1262.62px;transform:scaleX(1.040)">3</i><i style="left:1278.57px;transform:scaleX(1.000)">.</i><i style="left:1285.81px;transform:scaleX(1.040)">2</i><i style="left:1302.46px;transform:scaleX(0.850)">%</i></div>
<div class="t" style="left:5.06px;top:1155.00px;font-size:29px;transform:scaleX(1.1175)">Provincias</div>
<div class="t" style="left:164.78px;top:1155.00px;font-size:29px;transform:scaleX(0.9242)">(1)</div>
<div class="t n" style="left:0;top:1155.00px;font-size:29px"><i style="left:628.91px;transform:scaleX(1.040)">4</i><i style="left:645.44px;transform:scaleX(1.000)">,</i><i style="left:653.32px;transform:scaleX(1.040)">9</i><i style="left:670.48px;transform:scaleX(1.040)">7</i><i class="o" style="left:687px">1</i><i style="left:695.52px;transform:scaleX(1.000)">,</i><i style="left:702.95px;transform:scaleX(1.040)">2</i><i style="left:720.42px;transform:scaleX(1.040)">4</i><i style="left:738.13px;transform:scaleX(1.040)">0</i></div>
<div class="t n" style="left:0;top:1155.00px;font-size:29px"><i style="left:832.49px;transform:scaleX(1.040)">9</i><i style="left:848.92px;transform:scaleX(1.000)">.</i><i class="o" style="left:856px">1</i><i style="left:865.16px;transform:scaleX(0.850)">%</i></div>
<div class="t n" style="left:0;top:1155.00px;font-size:29px"><i style="left:1031.05px;transform:scaleX(1.040)">3</i><i style="left:1048.54px;transform:scaleX(1.040)">5</i><i style="left:1065.12px;transform:scaleX(1.000)">,</i><i style="left:1072.49px;transform:scaleX(1.040)">3</i><i style="left:1089.95px;transform:scaleX(1.040)">8</i><i style="left:1107.02px;transform:scaleX(1.040)">7</i><i style="left:1122.72px;transform:scaleX(1.000)">,</i><i style="left:1130.58px;transform:scaleX(1.040)">5</i><i style="left:1148.53px;transform:scaleX(1.040)">8</i><i style="left:1165.60px;transform:scaleX(1.040)">7</i></div>
<div class="t n" style="left:0;top:1155.00px;font-size:29px"><i style="left:1253.98px;transform:scaleX(1.040)">2</i><i style="left:1269.98px;transform:scaleX(1.000)">.</i><i style="left:1277.65px;transform:scaleX(1.040)">6</i><i style="left:1294.76px;transform:scaleX(0.850)">%</i></div>
<div class="t" style="left:5.21px;top:1203.00px;font-size:29px;transform:scaleX(1.0429)">No</div>
<div class="t" style="left:51.73px;top:1203.00px;font-size:29px;transform:scaleX(1.1343)">Presupuestario</div>
<div class="t" style="left:282.10px;top:1203.00px;font-size:29px;transform:scaleX(1.2017)">(2)</div>
<div class="t n" style="left:0;top:1203.00px;font-size:29px"><i style="left:643.97px;transform:scaleX(1.040)">6</i><i style="left:661.50px;transform:scaleX(1.040)">3</i><i style="left:679.08px;transform:scaleX(1.040)">8</i><i style="left:695.72px;transform:scaleX(1.000)">,</i><i style="left:703.63px;transform:scaleX(1.040)">8</i><i style="left:721.22px;transform:scaleX(1.040)">3</i><i style="left:738.35px;transform:scaleX(1.040)">3</i></div>
<div class="t n" style="left:0;top:1203.00px;font-size:29px"><i style="left:810.52px;transform:scaleX(1.690) translateY(-2.9px)">-</i><i style="left:827.11px;transform:scaleX(1.040)">3</i><i style="left:844.71px;transform:scaleX(1.040)">4</i><i style="left:861.31px;transform:scaleX(1.000)">.</i><i style="left:869.19px;transform:scaleX(1.040)">4</i><i style="left:886.66px;transform:scaleX(0.850)">%</i></div>
<div class="t n" style="left:0;top:1203.00px;font-size:29px"><i style="left:1055.25px;transform:scaleX(1.040)">3</i><i style="left:1071.36px;transform:scaleX(1.000)">,</i><i style="left:1079.20px;transform:scaleX(1.040)">8</i><i style="left:1096.69px;transform:scaleX(1.040)">3</i><i class="o" style="left:1114px">1</i><i style="left:1122.05px;transform:scaleX(1.000)">,</i><i style="left:1129.45px;transform:scaleX(1.040)">2</i><i style="left:1146.94px;transform:scaleX(1.040)">8</i><i style="left:1164.81px;transform:scaleX(1.040)">4</i></div>
<div class="t n" style="left:0;top:1203.00px;font-size:29px"><i style="left:1236.02px;transform:scaleX(1.690) translateY(-2.9px)">-</i><i style="left:1252.55px;transform:scaleX(1.040)">3</i><i style="left:1270.16px;transform:scaleX(1.040)">8</i><i style="left:1286.79px;transform:scaleX(1.000)">.</i><i style="left:1294.69px;transform:scaleX(1.040)">8</i><i style="left:1312.16px;transform:scaleX(0.850)">%</i></div>
<div class="t" style="left:5.59px;top:1298.00px;font-size:22px;transform:scaleX(1.1118)">Fuente:</div>
<div class="t" style="left:94.30px;top:1298.00px;font-size:22px;transform:scaleX(0.9579)">AFISPOP</div>
<div class="t" style="left:193.00px;top:1298.00px;font-size:22px;transform:scaleX(1.0329)">en</div>
<div class="t" style="left:224.90px;top:1298.00px;font-size:22px;transform:scaleX(1.0975)">base</div>
<div class="t" style="left:283.82px;top:1298.00px;font-size:22px;transform:scaleX(0.9500)">a</div>
<div class="t" style="left:300.66px;top:1298.00px;font-size:22px;transform:scaleX(1.0429)">Secretaría</div>
<div class="t" style="left:414.99px;top:1298.00px;font-size:22px;transform:scaleX(0.9500)">de</div>
<div class="t" style="left:447.12px;top:1298.00px;font-size:22px;transform:scaleX(1.0925)">Ingresos</div>
<div class="t" style="left:546.23px;top:1298.00px;font-size:22px;transform:scaleX(1.0675)">Públicos</div>
<div class="t n" style="left:0;top:1337.00px;font-size:20.6px"><i style="left:6.03px;transform:scaleX(1.150)">(</i><i class="o on" style="left:14.5px">1</i><i style="left:22.58px;transform:scaleX(1.150)">)</i></div>
<div class="t n" style="left:0;top:1337.00px;font-size:20.6px"><i style="left:38.44px;transform:scaleX(1.040)">5</i><i style="left:51.22px;transform:scaleX(1.040)">8</i><i style="left:62.99px;transform:scaleX(1.000)">,</i><i style="left:67.97px;transform:scaleX(1.040)">7</i><i style="left:80.08px;transform:scaleX(1.040)">6</i><i style="left:92.35px;transform:scaleX(0.850)">%</i></div>
<div class="t" style="left:115.00px;top:1337.00px;font-size:20.6px;transform:scaleX(0.9665)">de</div>
<div class="t" style="left:145.51px;top:1337.00px;font-size:20.6px;transform:scaleX(1.1876)">Coparticipados</div>
<div class="t" style="left:315.54px;top:1337.00px;font-size:20.6px;transform:scaleX(1.1650)">neto</div>
<div class="t n" style="left:0;top:1337.00px;font-size:20.6px"><i style="left:368.53px;transform:scaleX(1.150)">(</i><i style="left:377.75px;transform:scaleX(1.040)">5</i><i style="left:391.02px;transform:scaleX(1.040)">6</i><i style="left:403.10px;transform:scaleX(1.000)">,</i><i style="left:409.00px;transform:scaleX(1.040)">6</i><i style="left:422.19px;transform:scaleX(1.040)">6</i><i style="left:435.05px;transform:scaleX(0.850)">%</i></div>
<div class="t" style="left:455.59px;top:1337.00px;font-size:20.6px;transform:scaleX(1.1100)">Provincias</div>
<div class="t" style="left:569.70px;top:1337.00px;font-size:20.6px;transform:scaleX(1.0000)">+</div>
<div class="t n" style="left:0;top:1337.00px;font-size:20.6px"><i style="left:587.92px;transform:scaleX(1.040)">2</i><i style="left:599.60px;transform:scaleX(1.000)">,</i><i class="o on" style="left:605.0px">1</i><i style="left:611.75px;transform:scaleX(0.850)">%</i></div>
<div class="t" style="left:633.85px;top:1337.00px;font-size:20.6px;transform:scaleX(1.1456)">para</div>
<div class="t" style="left:689.01px;top:1337.00px;font-size:20.6px;transform:scaleX(0.9938)">CABA</div>
<div class="t" style="left:753.07px;top:1337.00px;font-size:20.6px;transform:scaleX(0.9500)">y</div>
<div class="t" style="left:770.70px;top:1337.00px;font-size:20.6px;transform:scaleX(1.0754)">Tierra</div>
<div class="t" style="left:836.70px;top:1337.00px;font-size:20.6px;transform:scaleX(1.0518)">del</div>
<div class="t" style="left:872.88px;top:1337.00px;font-size:20.6px;transform:scaleX(1.1238)">Fuego),</div>
<div class="t n" style="left:0;top:1337.00px;font-size:20.6px"><i style="left:957.04px;transform:scaleX(1.040)">5</i><i style="left:969.14px;transform:scaleX(1.040)">7</i><i style="left:980.26px;transform:scaleX(1.000)">,</i><i style="left:985.47px;transform:scaleX(1.040)">3</i><i style="left:997.77px;transform:scaleX(1.040)">6</i><i style="left:1009.95px;transform:scaleX(0.850)">%</i></div>
<div class="t" style="left:1032.90px;top:1337.00px;font-size:20.6px;transform:scaleX(1.1187)">del</div>
<div class="t n" style="left:0;top:1337.00px;font-size:20.6px"><i style="left:1069.90px;transform:scaleX(1.040)">9</i><i style="left:1082.26px;transform:scaleX(1.040)">3</i><i style="left:1093.65px;transform:scaleX(1.000)">,</i><i style="left:1098.58px;transform:scaleX(1.040)">7</i><i style="left:1110.35px;transform:scaleX(1.040)">3</i><i style="left:1122.25px;transform:scaleX(0.850)">%</i></div>
<div class="t" style="left:1145.20px;top:1337.00px;font-size:20.6px;transform:scaleX(1.0154)">de</div>
<div class="t" style="left:1176.74px;top:1337.00px;font-size:20.6px;transform:scaleX(1.0637)">Bienes</div>
<div class="t" style="left:1251.01px;top:1337.00px;font-size:20.6px;transform:scaleX(1.0912)">Personales,</div>
<div class="t n" style="left:0;top:1378.00px;font-size:20.6px"><i style="left:5.88px;transform:scaleX(1.040)">3</i><i style="left:18.03px;transform:scaleX(1.040)">0</i><i style="left:30.06px;transform:scaleX(0.850)">%</i></div>
<div class="t" style="left:53.30px;top:1378.00px;font-size:20.6px;transform:scaleX(0.9665)">de</div>
<div class="t" style="left:84.84px;top:1378.00px;font-size:20.6px;transform:scaleX(1.1557)">Monotributo</div>
<div class="t" style="left:218.89px;top:1378.00px;font-size:20.6px;transform:scaleX(1.1105)">impositivo.</div>
<div class="t n" style="left:0;top:1378.00px;font-size:20.6px"><i class="o on" style="left:335.0px">1</i><i style="left:341.99px;transform:scaleX(1.040)">0</i><i style="left:353.70px;transform:scaleX(1.000)">,</i><i style="left:359.33px;transform:scaleX(1.040)">4</i><i style="left:371.75px;transform:scaleX(0.850)">%</i></div>
<div class="t" style="left:394.84px;top:1378.00px;font-size:20.6px;transform:scaleX(1.1605)">(Provincias)</div>
<div class="t" style="left:527.30px;top:1378.00px;font-size:20.6px;transform:scaleX(1.0000)">y</div>
<div class="t n" style="left:0;top:1378.00px;font-size:20.6px"><i class="o on" style="left:545.0px">1</i><i style="left:551.74px;transform:scaleX(1.040)">5</i><i style="left:563.35px;transform:scaleX(1.000)">,</i><i style="left:568.59px;transform:scaleX(1.040)">0</i><i style="left:580.33px;transform:scaleX(1.040)">7</i><i style="left:591.75px;transform:scaleX(0.850)">%</i></div>
<div class="t" style="left:614.95px;top:1378.00px;font-size:20.6px;transform:scaleX(1.0541)">(FONAVI)</div>
<div class="t" style="left:717.30px;top:1378.00px;font-size:20.6px;transform:scaleX(1.0110)">de</div>
<div class="t" style="left:748.84px;top:1378.00px;font-size:20.6px;transform:scaleX(1.1558)">Combustibles</div>
<div class="t" style="left:900.06px;top:1378.00px;font-size:20.6px;transform:scaleX(0.9360)">Ley</div>
<div class="t n" style="left:0;top:1378.00px;font-size:20.6px"><i style="left:938.72px;transform:scaleX(1.040)">2</i><i style="left:951.28px;transform:scaleX(1.040)">3</i><i style="left:963.02px;transform:scaleX(1.000)">.</i><i style="left:968.90px;transform:scaleX(1.040)">9</i><i style="left:982.09px;transform:scaleX(1.040)">6</i><i style="left:995.22px;transform:scaleX(1.040)">6</i><i style="left:1007.33px;transform:scaleX(1.000)">;</i></div>
<div class="t n" style="left:0;top:1378.00px;font-size:20.6px"><i style="left:1018.41px;transform:scaleX(1.040)">6</i><i style="left:1030.11px;transform:scaleX(1.000)">.</i><i style="left:1035.34px;transform:scaleX(1.040)">2</i><i style="left:1047.16px;transform:scaleX(1.040)">7</i><i style="left:1058.85px;transform:scaleX(0.850)">%</i></div>
<div class="t" style="left:1080.74px;top:1378.00px;font-size:20.6px;transform:scaleX(1.0637)">Bienes</div>
<div class="t" style="left:1154.31px;top:1378.00px;font-size:20.6px;transform:scaleX(1.0931)">Personales,</div>
<div class="t n" style="left:0;top:1378.00px;font-size:20.6px"><i style="left:1277.51px;transform:scaleX(1.040)">6</i><i style="left:1289.36px;transform:scaleX(1.000)">,</i><i style="left:1294.74px;transform:scaleX(1.040)">2</i><i style="left:1306.74px;transform:scaleX(1.040)">7</i><i style="left:1318.65px;transform:scaleX(0.850)">%</i></div>
<div class="t" style="left:1340.90px;top:1378.00px;font-size:20.6px;transform:scaleX(1.1187)">del</div>
<div class="t n" style="left:0;top:1419.00px;font-size:20.6px"><i class="o on" style="left:6.5px">1</i><i class="o on" style="left:13.0px">1</i><i style="left:18.46px;transform:scaleX(0.850)">%</i></div>
<div class="t" style="left:40.70px;top:1419.00px;font-size:20.6px;transform:scaleX(1.0023)">IVA</div>
<div class="t" style="left:79.86px;top:1419.00px;font-size:20.6px;transform:scaleX(1.1391)">neto</div>
<div class="t" style="left:133.30px;top:1419.00px;font-size:20.6px;transform:scaleX(0.9665)">de</div>
<div class="t" style="left:165.59px;top:1419.00px;font-size:20.6px;transform:scaleX(1.1112)">Reintegros,</div>
<div class="t" style="left:289.30px;top:1419.00px;font-size:20.6px;transform:scaleX(0.9727)">y</div>
<div class="t" style="left:306.70px;top:1419.00px;font-size:20.6px;transform:scaleX(1.1256)">suma</div>
<div class="t" style="left:372.73px;top:1419.00px;font-size:20.6px;transform:scaleX(1.2000)">fija</div>
<div class="t" style="left:412.20px;top:1419.00px;font-size:20.6px;transform:scaleX(1.0966)">por</div>
<div class="t" style="left:450.19px;top:1419.00px;font-size:20.6px;transform:scaleX(1.1131)">Pacto</div>
<div class="t" style="left:514.92px;top:1419.00px;font-size:20.6px;transform:scaleX(1.0797)">Fiscal.</div>
<div class="t" style="left:589.88px;top:1419.00px;font-size:20.6px;transform:scaleX(1.1239)">Incluye</div>
<div class="t" style="left:671.00px;top:1419.00px;font-size:20.6px;transform:scaleX(1.1637)">compensación</div>
<div class="t" style="left:832.18px;top:1419.00px;font-size:20.6px;transform:scaleX(1.1185)">Consenso</div>
<div class="t" style="left:942.32px;top:1419.00px;font-size:20.6px;transform:scaleX(1.0766)">Fiscal</div>
<div class="t" style="left:1007.50px;top:1419.00px;font-size:20.6px;transform:scaleX(1.0000)">a</div>
<div class="t" style="left:1025.10px;top:1419.00px;font-size:20.6px;transform:scaleX(0.9500)">la</div>
<div class="t" style="left:1050.98px;top:1419.00px;font-size:20.6px;transform:scaleX(1.1182)">Provincia</div>
<div class="t" style="left:1154.30px;top:1419.00px;font-size:20.6px;transform:scaleX(1.0466)">de</div>
<div class="t" style="left:1186.14px;top:1419.00px;font-size:20.6px;transform:scaleX(1.0576)">Buenos</div>
<div class="t" style="left:1268.40px;top:1419.00px;font-size:20.6px;transform:scaleX(1.0684)">Aires.</div>
<div class="t n" style="left:0;top:1467.00px;font-size:20.6px"><i style="left:5.83px;transform:scaleX(1.150)">(</i><i style="left:14.84px;transform:scaleX(1.040)">2</i><i style="left:27.88px;transform:scaleX(1.150)">)</i></div>
<div class="t" style="left:43.96px;top:1467.00px;font-size:20.6px;transform:scaleX(1.0362)">Fondo</div>
<div class="t" style="left:113.30px;top:1467.00px;font-size:20.6px;transform:scaleX(1.1094)">Solidario</div>
<div class="t" style="left:209.30px;top:1467.00px;font-size:20.6px;transform:scaleX(0.9665)">de</div>
<div class="t" style="left:240.58px;top:1467.00px;font-size:20.6px;transform:scaleX(1.1222)">Redistribución,</div>
<div class="t" style="left:398.76px;top:1467.00px;font-size:20.6px;transform:scaleX(1.1389)">Recargo</div>
<div class="t" style="left:494.76px;top:1467.00px;font-size:20.6px;transform:scaleX(0.9500)">al</div>
<div class="t" style="left:517.66px;top:1467.00px;font-size:20.6px;transform:scaleX(1.1363)">Consumo</div>
<div class="t" style="left:625.30px;top:1467.00px;font-size:20.6px;transform:scaleX(1.0956)">de</div>
<div class="t" style="left:657.91px;top:1467.00px;font-size:20.6px;transform:scaleX(1.0913)">Gas</div>
<div class="t" style="left:706.85px;top:1467.00px;font-size:20.6px;transform:scaleX(1.0487)">(Ley</div>
<div class="t" style="left:755.72px;top:1467.00px;font-size:20.6px;transform:scaleX(1.0790)">Nº</div>
<div class="t n" style="left:0;top:1467.00px;font-size:20.6px"><i style="left:785.42px;transform:scaleX(1.040)">2</i><i style="left:798.25px;transform:scaleX(1.040)">5</i><i style="left:810.28px;transform:scaleX(1.000)">.</i><i style="left:816.13px;transform:scaleX(1.040)">5</i><i style="left:829.24px;transform:scaleX(1.040)">6</i><i style="left:842.35px;transform:scaleX(1.040)">5</i><i style="left:855.47px;transform:scaleX(1.150)">)</i><i style="left:863.43px;transform:scaleX(1.000)">,</i></div>
<div class="t n" style="left:0;top:1467.00px;font-size:20.6px"><i style="left:873.32px;transform:scaleX(1.040)">2</i><i style="left:885.70px;transform:scaleX(1.040)">8</i><i style="left:897.43px;transform:scaleX(1.000)">,</i><i style="left:902.99px;transform:scaleX(1.040)">5</i><i style="left:915.71px;transform:scaleX(1.040)">8</i><i style="left:927.95px;transform:scaleX(0.850)">%</i></div>
<div class="t" style="left:951.27px;top:1467.00px;font-size:20.6px;transform:scaleX(1.0271)">(F.</div>
<div class="t" style="left:981.70px;top:1467.00px;font-size:20.6px;transform:scaleX(1.0912)">de</div>
<div class="t" style="left:1014.15px;top:1467.00px;font-size:20.6px;transform:scaleX(1.0500)">Infr.</div>
<div class="t" style="left:1057.80px;top:1467.00px;font-size:20.6px;transform:scaleX(1.0937)">Transp.),</div>
<div class="t n" style="left:0;top:1467.00px;font-size:20.6px"><i style="left:1152.31px;transform:scaleX(1.040)">4</i><i style="left:1164.21px;transform:scaleX(1.000)">,</i><i style="left:1169.65px;transform:scaleX(1.040)">3</i><i class="o on" style="left:1182.0px">1</i><i style="left:1188.65px;transform:scaleX(0.850)">%</i></div>
<div class="t" style="left:1212.01px;top:1467.00px;font-size:20.6px;transform:scaleX(0.9924)">(F.</div>
<div class="t" style="left:1241.70px;top:1467.00px;font-size:20.6px;transform:scaleX(1.0912)">de</div>
<div class="t" style="left:1274.09px;top:1467.00px;font-size:20.6px;transform:scaleX(1.1101)">Infr.</div>
<div class="t" style="left:5.60px;top:1508.00px;font-size:20.6px;transform:scaleX(1.0967)">Hídrica.)</div>
<div class="t" style="left:99.30px;top:1508.00px;font-size:20.6px;transform:scaleX(0.9727)">y</div>
<div class="t n" style="left:0;top:1508.00px;font-size:20.6px"><i style="left:116.22px;transform:scaleX(1.040)">2</i><i style="left:127.79px;transform:scaleX(1.000)">,</i><i style="left:133.52px;transform:scaleX(1.040)">5</i><i style="left:146.51px;transform:scaleX(1.040)">5</i><i style="left:159.05px;transform:scaleX(0.850)">%</i></div>
<div class="t" style="left:182.14px;top:1508.00px;font-size:20.6px;transform:scaleX(1.1576)">(Comp.</div>
<div class="t" style="left:267.70px;top:1508.00px;font-size:20.6px;transform:scaleX(1.0486)">Transp.</div>
<div class="t" style="left:347.17px;top:1508.00px;font-size:20.6px;transform:scaleX(1.1262)">Público)</div>
<div class="t" style="left:438.70px;top:1508.00px;font-size:20.6px;transform:scaleX(1.0644)">de</div>
<div class="t" style="left:470.54px;top:1508.00px;font-size:20.6px;transform:scaleX(1.1591)">Combustibles</div>
<div class="t" style="left:622.55px;top:1508.00px;font-size:20.6px;transform:scaleX(0.9451)">Ley</div>
<div class="t n" style="left:0;top:1508.00px;font-size:20.6px"><i style="left:661.52px;transform:scaleX(1.040)">2</i><i style="left:673.59px;transform:scaleX(1.040)">3</i><i style="left:684.99px;transform:scaleX(1.000)">.</i><i style="left:690.53px;transform:scaleX(1.040)">9</i><i style="left:703.20px;transform:scaleX(1.040)">6</i><i style="left:715.83px;transform:scaleX(1.040)">6</i><i style="left:727.53px;transform:scaleX(1.000)">,</i></div>
<div class="t n" style="left:0;top:1508.00px;font-size:20.6px"><i style="left:738.99px;transform:scaleX(1.040)">3</i><i style="left:751.84px;transform:scaleX(1.040)">0</i><i style="left:764.65px;transform:scaleX(0.850)">%</i></div>
<div class="t" style="left:787.68px;top:1508.00px;font-size:20.6px;transform:scaleX(1.0221)">(F.</div>
<div class="t" style="left:817.70px;top:1508.00px;font-size:20.6px;transform:scaleX(1.0822)">de</div>
<div class="t" style="left:848.81px;top:1508.00px;font-size:20.6px;transform:scaleX(1.0928)">Int.</div>
<div class="t" style="left:886.40px;top:1508.00px;font-size:20.6px;transform:scaleX(1.0850)">Socio</div>
<div class="t" style="left:948.19px;top:1508.00px;font-size:20.6px;transform:scaleX(1.1114)">Urbana,</div>
<div class="t" style="left:1035.20px;top:1508.00px;font-size:20.6px;transform:scaleX(1.1276)">Obras</div>
<div class="t" style="left:1106.80px;top:1508.00px;font-size:20.6px;transform:scaleX(1.0912)">de</div>
<div class="t" style="left:1138.53px;top:1508.00px;font-size:20.6px;transform:scaleX(1.0722)">Infr.</div>
<div class="t" style="left:1181.14px;top:1508.00px;font-size:20.6px;transform:scaleX(1.0553)">Econ.</div>
<div class="t" style="left:1243.20px;top:1508.00px;font-size:20.6px;transform:scaleX(1.0273)">y</div>
<div class="t" style="left:1260.20px;top:1508.00px;font-size:20.6px;transform:scaleX(1.1763)">fomento</div>
<div class="t" style="left:6.70px;top:1549.00px;font-size:20.6px;transform:scaleX(1.1644)">turismo)</div>
<div class="t" style="left:101.70px;top:1549.00px;font-size:20.6px;transform:scaleX(0.9886)">del</div>
<div class="t" style="left:138.14px;top:1549.00px;font-size:20.6px;transform:scaleX(1.1626)">Imp.</div>
<div class="t" style="left:189.97px;top:1549.00px;font-size:20.6px;transform:scaleX(1.0319)">Pais</div>
<div class="t" style="left:239.30px;top:1549.00px;font-size:20.6px;transform:scaleX(1.1917)">total</div>
<div class="t" style="left:292.70px;top:1549.00px;font-size:20.6px;transform:scaleX(0.9636)">y</div>
<div class="t n" style="left:0;top:1549.00px;font-size:20.6px"><i style="left:310.21px;transform:scaleX(1.040)">4</i><i style="left:323.29px;transform:scaleX(1.040)">0</i><i style="left:336.05px;transform:scaleX(0.850)">%</i></div>
<div class="t" style="left:360.70px;top:1549.00px;font-size:20.6px;transform:scaleX(0.9886)">del</div>
<div class="t n" style="left:0;top:1549.00px;font-size:20.6px"><i style="left:394.50px;transform:scaleX(1.040)">7</i><i style="left:407.14px;transform:scaleX(1.040)">0</i><i style="left:420.05px;transform:scaleX(0.850)">%</i></div>
<div class="t" style="left:443.12px;top:1549.00px;font-size:20.6px;transform:scaleX(0.9838)">(INSSJP)</div>
<div class="t" style="left:535.80px;top:1549.00px;font-size:20.6px;transform:scaleX(1.0481)">del</div>
<div class="t" style="left:572.63px;top:1549.00px;font-size:20.6px;transform:scaleX(1.1653)">Imp.</div>
<div class="t" style="left:624.27px;top:1549.00px;font-size:20.6px;transform:scaleX(1.0267)">Pais</div>
<div class="t" style="left:671.84px;top:1549.00px;font-size:20.6px;transform:scaleX(0.9573)">Ley</div>
<div class="t n" style="left:0;top:1549.00px;font-size:20.6px"><i style="left:711.12px;transform:scaleX(1.040)">2</i><i style="left:723.44px;transform:scaleX(1.040)">7</i><i style="left:734.93px;transform:scaleX(1.000)">.</i><i style="left:740.87px;transform:scaleX(1.040)">5</i><i style="left:754.13px;transform:scaleX(1.040)">4</i><i class="o on" style="left:766.5px">1</i></div>
<div class="t" style="left:778.60px;top:1549.00px;font-size:20.6px;transform:scaleX(0.9818)">y</div>
<div class="t" style="left:795.66px;top:1549.00px;font-size:20.6px;transform:scaleX(0.9500)">el</div>
<div class="t n" style="left:0;top:1549.00px;font-size:20.6px"><i style="left:819.37px;transform:scaleX(1.040)">5</i><i style="left:832.83px;transform:scaleX(0.850)">%</i></div>
<div class="t" style="left:856.40px;top:1549.00px;font-size:20.6px;transform:scaleX(1.1150)">del</div>
<div class="t" style="left:893.50px;top:1549.00px;font-size:20.6px;transform:scaleX(1.1957)">incremental</div>
<div class="t" style="left:1027.70px;top:1549.00px;font-size:20.6px;transform:scaleX(1.0778)">del</div>
<div class="t" style="left:1064.24px;top:1549.00px;font-size:20.6px;transform:scaleX(1.1599)">Imp.</div>
<div class="t" style="left:1115.18px;top:1549.00px;font-size:20.6px;transform:scaleX(1.0216)">Pais</div>
<div class="t" style="left:1164.40px;top:1549.00px;font-size:20.6px;transform:scaleX(1.0815)">del</div>
<div class="t" style="left:1201.06px;top:1549.00px;font-size:20.6px;transform:scaleX(1.0443)">Dto.</div>
<div class="t n" style="left:0;top:1549.00px;font-size:20.6px"><i style="left:1247.28px;transform:scaleX(1.040)">3</i><i style="left:1259.21px;transform:scaleX(1.040)">7</i><i style="left:1270.86px;transform:scaleX(1.040)">7</i><i style="left:1282.91px;transform:scaleX(1.350)">/</i><i style="left:1291.05px;transform:scaleX(1.040)">2</i><i style="left:1303.43px;transform:scaleX(1.040)">0</i><i style="left:1315.81px;transform:scaleX(1.040)">2</i><i style="left:1328.01px;transform:scaleX(1.040)">3</i><i style="left:1339.53px;transform:scaleX(1.000)">,</i></div>
<div class="t" style="left:5.57px;top:1590.00px;font-size:20.6px;transform:scaleX(1.1277)">Facilidades</div>
<div class="t" style="left:130.70px;top:1590.00px;font-size:20.6px;transform:scaleX(1.0065)">de</div>
<div class="t" style="left:162.19px;top:1590.00px;font-size:20.6px;transform:scaleX(1.1084)">Pago</div>
<div class="t" style="left:221.55px;top:1590.00px;font-size:20.6px;transform:scaleX(1.1461)">pendientes</div>
<div class="t" style="left:345.70px;top:1590.00px;font-size:20.6px;transform:scaleX(0.9798)">de</div>
<div class="t" style="left:377.00px;top:1590.00px;font-size:20.6px;transform:scaleX(1.1744)">distribución</div>
<div class="t" style="left:506.80px;top:1590.00px;font-size:20.6px;transform:scaleX(1.0545)">y</div>
<div class="t" style="left:524.90px;top:1590.00px;font-size:20.6px;transform:scaleX(1.1527)">gastos</div>
<div class="t" style="left:601.70px;top:1590.00px;font-size:20.6px;transform:scaleX(0.8829)">A.F.I.P</div>
</body></html>
